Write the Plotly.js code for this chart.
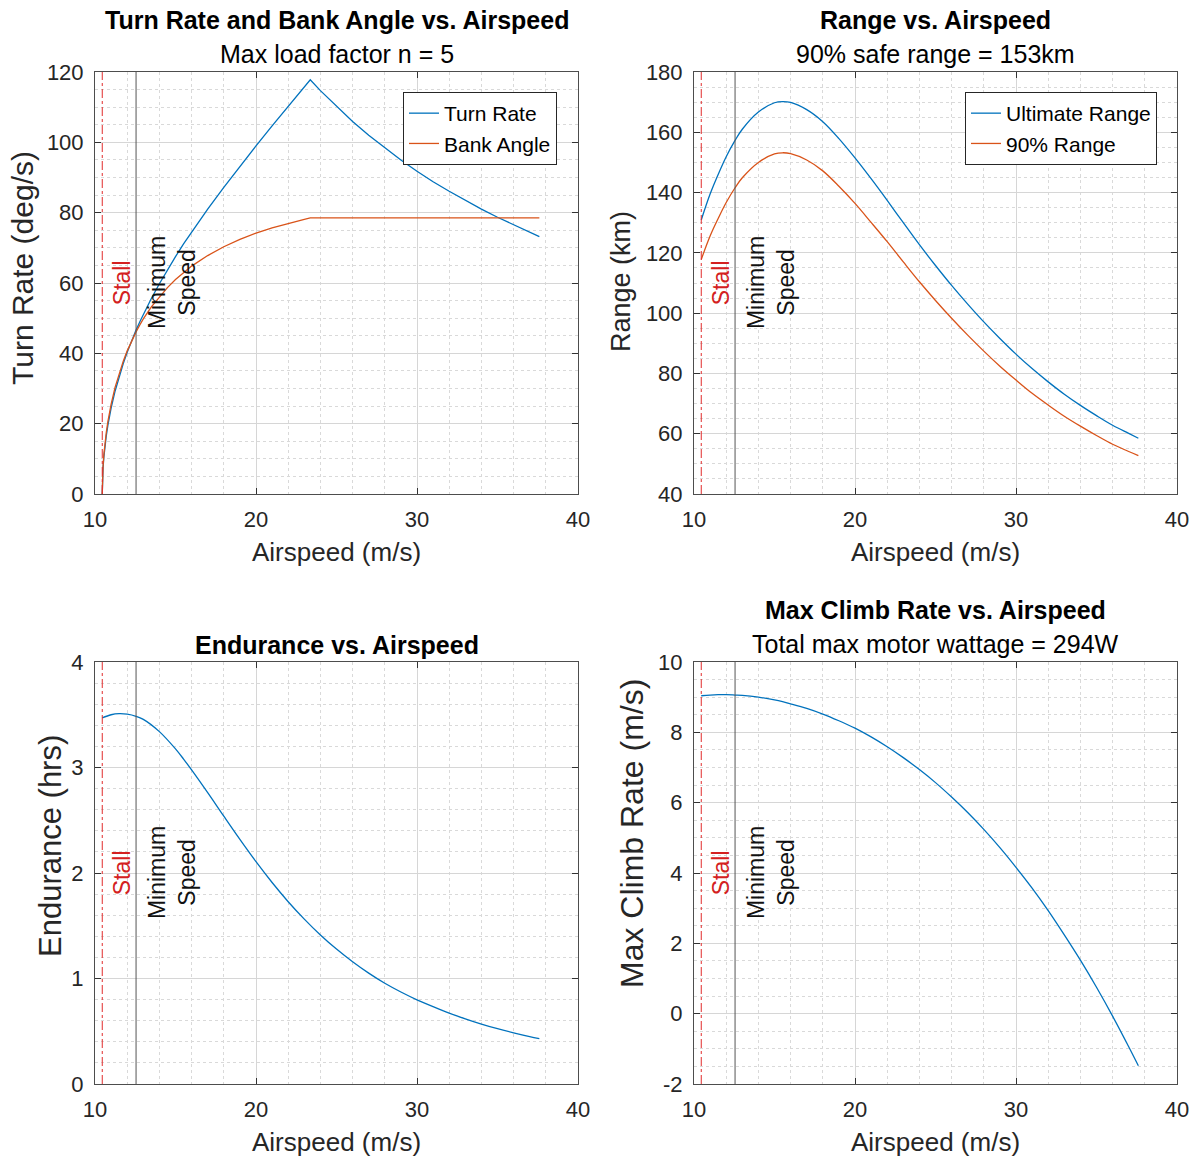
<!DOCTYPE html>
<html><head><meta charset="utf-8">
<script src="https://cdn.plot.ly/plotly-3.0.1.min.js"></script>
<style>html,body{margin:0;padding:0;background:#fff}#chart{width:1198px;height:1162px}</style>
</head><body><div id="chart"></div>
<script>
// ---- data ----
const stallSpeed = 10.45;
const minSpeed = 12.55;

const airspeedTurn = [10.45, 10.47, 10.5, 10.55, 10.6, 10.7, 10.8, 10.9, 11, 11.25, 11.5, 11.75, 12, 12.25, 12.55, 12.8, 13, 13.5, 14, 14.5,
  15, 15.5, 16, 17, 18, 19, 20, 21, 22, 23, 23.37, 24, 25, 26, 27, 28, 29, 30, 31, 32,
  33, 34, 35, 36, 37, 37.6];
const turnRate = [0, 4.7, 7.4, 10.5, 12.8, 16.5, 19.5, 22.1, 24.4, 29.3, 33.4, 37.0, 40.3, 43.3, 46.6, 49.1, 51.1, 55.6, 59.8, 63.8,
  67.5, 71.1, 74.5, 81.0, 87.2, 93.2, 99.0, 104.7, 110.3, 115.8, 117.8, 114.7, 110.2, 105.9, 102.0, 98.4, 95.0, 91.8, 88.8, 86.1,
  83.5, 81.0, 78.7, 76.5, 74.4, 73.2];
const bankAngle = [0, 5.0, 7.9, 11.2, 13.6, 17.5, 20.6, 23.2, 25.5, 30.4, 34.3, 37.7, 40.7, 43.3, 46.1, 48.2, 49.8, 53.2, 56.1, 58.7,
  61.0, 63.0, 64.8, 67.8, 70.3, 72.4, 74.2, 75.7, 77.0, 78.1, 78.5, 78.5, 78.5, 78.5, 78.5, 78.5, 78.5, 78.5, 78.5, 78.5,
  78.5, 78.5, 78.5, 78.5, 78.5, 78.5];

const airspeed = [10.45, 11, 11.5, 12, 12.55, 13, 14, 15, 15.5, 16, 17, 18, 19, 20, 21, 22, 23, 24, 25, 26,
  27, 28, 29, 30, 31, 32, 33, 34, 35, 36, 37, 37.6];
const ultimateRange = [130.9, 139.5, 146.0, 151.9, 157.3, 161.0, 166.7, 169.8, 170.2, 169.9, 167.5, 163.5, 157.9, 151.5, 144.6, 137.4, 130.0, 122.7, 115.8, 109.2,
  103.0, 97.1, 91.6, 86.4, 81.6, 77.2, 73.1, 69.4, 66.0, 62.8, 60.1, 58.5];
const range90 = [117.8, 125.6, 131.4, 136.7, 141.6, 144.9, 150.0, 152.8, 153.2, 152.9, 150.8, 147.2, 142.1, 136.4, 130.1, 123.7, 117.0, 110.4, 104.2, 98.3,
  92.7, 87.4, 82.4, 77.8, 73.4, 69.5, 65.8, 62.5, 59.4, 56.5, 54.1, 52.7];
const endurance = [3.47, 3.50, 3.51, 3.505, 3.485, 3.456, 3.340, 3.176, 3.08, 2.977, 2.761, 2.538, 2.318, 2.107, 1.910, 1.728, 1.563, 1.413, 1.279, 1.159,
  1.051, 0.955, 0.872, 0.798, 0.733, 0.672, 0.618, 0.568, 0.524, 0.485, 0.449, 0.43];
const climbRate = [9.04, 9.06, 9.07, 9.07, 9.06, 9.05, 9.00, 8.92, 8.87, 8.81, 8.68, 8.52, 8.33, 8.12, 7.87, 7.59, 7.28, 6.94, 6.57, 6.16,
  5.72, 5.24, 4.72, 4.16, 3.57, 2.93, 2.24, 1.52, 0.75, -0.07, -0.94, -1.48];

const titles = ["Turn Rate and Bank Angle vs. Airspeed", "Range vs. Airspeed", "Endurance vs. Airspeed", "Max Climb Rate vs. Airspeed"];
const subtitles = ["Max load factor n = 5", "90% safe range = 153km", "", "Total max motor wattage = 294W"];
const yLabels = ["Turn Rate (deg/s)", "Range (km)", "Endurance (hrs)", "Max Climb Rate (m/s)"];
const xLabel = "Airspeed (m/s)";
const xTickVals = [10, 20, 30, 40];
const xTickText = ["10", "20", "30", "40"];
const yTickVals = [[0, 20, 40, 60, 80, 100, 120], [40, 60, 80, 100, 120, 140, 160, 180], [0, 1, 2, 3, 4], [-2, 0, 2, 4, 6, 8, 10]];
const yTickText = [["0", "20", "40", "60", "80", "100", "120"], ["40", "60", "80", "100", "120", "140", "160", "180"],
  ["0", "1", "2", "3", "4"], ["-2", "0", "2", "4", "6", "8", "10"]];
const yRanges = [[0, 120], [40, 180], [0, 4], [-2, 10]];
const yMinor = [5, 5, 0.2, 0.5];

// ---- styling / layout ----
const FONT = "Liberation Sans, Arial, Helvetica, sans-serif";
const BLUE = "#0072BD", ORANGE = "#D95319";
const W = 1198, H = 1162;
const px = v => v / W, py = v => 1 - v / H;
const boxes = [ // [left, right, top, bottom] in px
  [95, 578, 72, 494], [694, 1177, 72, 494], [95, 578, 662, 1084], [694, 1177, 662, 1084]
];
// y-label placement (centre x offset left of axis, centre y, font size)
const yLabelPos = [[73, 268, 30], [73, 282, 27], [45, 846, 31], [62, 834, 32]];

function xAxis(i) {
  const b = boxes[i];
  return {
    domain: [px(b[0]), px(b[1])], anchor: i === 0 ? 'y' : 'y' + (i + 1),
    range: [10, 40], tickmode: 'array', tickvals: xTickVals, ticktext: xTickText,
    ticks: 'inside', ticklen: 6, tickcolor: '#333',
    showline: true, linecolor: '#4d4d4d', linewidth: 1, mirror: 'ticks',
    showgrid: true, gridcolor: '#d6d6d6', gridwidth: 1, zeroline: false,
    minor: {dtick: 2, tick0: 10, showgrid: true, gridcolor: '#d9d9d9', griddash: 'dot', gridwidth: 1, ticks: ''},
    tickfont: {family: FONT, size: 22, color: '#262626'}, ticklabelstandoff: 6, fixedrange: true
  };
}
function yAxis(i) {
  const b = boxes[i];
  return {
    domain: [py(b[3]), py(b[2])], anchor: i === 0 ? 'x' : 'x' + (i + 1),
    range: yRanges[i], tickmode: 'array', tickvals: yTickVals[i], ticktext: yTickText[i],
    ticks: 'inside', ticklen: 6, tickcolor: '#333',
    showline: true, linecolor: '#4d4d4d', linewidth: 1, mirror: 'ticks',
    showgrid: true, gridcolor: '#d6d6d6', gridwidth: 1, zeroline: false,
    minor: {dtick: yMinor[i], tick0: yRanges[i][0], showgrid: true, gridcolor: '#d9d9d9', griddash: 'dot', gridwidth: 1, ticks: ''},
    tickfont: {family: FONT, size: 22, color: '#262626'}, ticklabelstandoff: 6, fixedrange: true
  };
}

function smooth(color) { return {color: color, width: 1.3, shape: 'spline', smoothing: 1}; }
function straight(color) { return {color: color, width: 1.3, shape: 'linear'}; }
const traces = [
  {x: airspeedTurn, y: turnRate, name: 'Turn Rate', type: 'scatter', mode: 'lines', line: straight(BLUE), xaxis: 'x', yaxis: 'y', legend: 'legend'},
  {x: airspeedTurn, y: bankAngle, name: 'Bank Angle', type: 'scatter', mode: 'lines', line: straight(ORANGE), xaxis: 'x', yaxis: 'y', legend: 'legend'},
  {x: airspeed, y: ultimateRange, name: 'Ultimate Range', type: 'scatter', mode: 'lines', line: smooth(BLUE), xaxis: 'x2', yaxis: 'y2', legend: 'legend2'},
  {x: airspeed, y: range90, name: '90% Range', type: 'scatter', mode: 'lines', line: smooth(ORANGE), xaxis: 'x2', yaxis: 'y2', legend: 'legend2'},
  {x: airspeed, y: endurance, name: 'Endurance', type: 'scatter', mode: 'lines', line: smooth(BLUE), xaxis: 'x3', yaxis: 'y3', showlegend: false},
  {x: airspeed, y: climbRate, name: 'Max Climb Rate', type: 'scatter', mode: 'lines', line: smooth(BLUE), xaxis: 'x4', yaxis: 'y4', showlegend: false}
];

const shapes = [], annotations = [];
for (let i = 0; i < 4; i++) {
  const xr = i === 0 ? 'x' : 'x' + (i + 1);
  const yr = (i === 0 ? 'y' : 'y' + (i + 1)) + ' domain';
  const b = boxes[i];
  const cx = px((b[0] + b[1]) / 2);
  shapes.push({type: 'line', xref: xr, yref: yr, x0: stallSpeed, x1: stallSpeed, y0: 0, y1: 1,
    line: {color: 'rgb(225,45,45)', width: 1, dash: 'dashdot'}, layer: 'above'});
  shapes.push({type: 'line', xref: xr, yref: yr, x0: minSpeed, x1: minSpeed, y0: 0, y1: 1,
    line: {color: '#555555', width: 1}, layer: 'above'});
  annotations.push({xref: xr, yref: yr, x: stallSpeed, y: 0.5, xshift: 20, text: 'Stall', textangle: -90,
    showarrow: false, xanchor: 'center', yanchor: 'middle', font: {family: FONT, size: 23, color: '#d42020'}});
  annotations.push({xref: xr, yref: yr, x: minSpeed, y: 0.5, xshift: 36, text: 'Minimum<br>Speed', textangle: -90, align: 'center',
    showarrow: false, xanchor: 'center', yanchor: 'middle', font: {family: FONT, size: 23, color: '#111'}});
  // titles
  const hasSub = subtitles[i] !== '';
  const titleY = hasSub ? b[2] - 52 : b[2] - 17;
  annotations.push({xref: 'paper', yref: 'paper', x: cx, y: py(titleY), text: '<b>' + titles[i] + '</b>', showarrow: false,
    xanchor: 'center', yanchor: 'middle', font: {family: FONT, size: 25, color: '#000'}});
  if (hasSub) {
    annotations.push({xref: 'paper', yref: 'paper', x: cx, y: py(b[2] - 18), text: subtitles[i], showarrow: false,
      xanchor: 'center', yanchor: 'middle', font: {family: FONT, size: 25, color: '#000'}});
  }
  // axis titles
  annotations.push({xref: 'paper', yref: 'paper', x: cx, y: py(b[3] + 58), text: xLabel, showarrow: false,
    xanchor: 'center', yanchor: 'middle', font: {family: FONT, size: 26, color: '#262626'}});
  const yl = yLabelPos[i];
  annotations.push({xref: 'paper', yref: 'paper', x: px(b[0] - yl[0]), y: py(yl[1]), text: yLabels[i], textangle: -90, showarrow: false,
    xanchor: 'center', yanchor: 'middle', font: {family: FONT, size: yl[2], color: '#262626'}});
}

const layout = {
  width: W, height: H, margin: {l: 0, r: 0, t: 0, b: 0},
  paper_bgcolor: '#fff', plot_bgcolor: '#fff',
  font: {family: FONT, color: '#262626'},
  xaxis: xAxis(0), yaxis: yAxis(0), xaxis2: xAxis(1), yaxis2: yAxis(1),
  xaxis3: xAxis(2), yaxis3: yAxis(2), xaxis4: xAxis(3), yaxis4: yAxis(3),
  legend: {x: px(557), xanchor: 'right', y: py(92), yanchor: 'top', bgcolor: '#fff', bordercolor: '#262626', borderwidth: 1,
    font: {family: FONT, size: 21, color: '#000'}, tracegroupgap: 0},
  legend2: {x: px(1157), xanchor: 'right', y: py(92), yanchor: 'top', bgcolor: '#fff', bordercolor: '#262626', borderwidth: 1,
    font: {family: FONT, size: 21, color: '#000'}, tracegroupgap: 0},
  shapes: shapes, annotations: annotations, showlegend: true
};

Plotly.newPlot('chart', traces, layout, {displayModeBar: false, staticPlot: true});
</script>
</body></html>
